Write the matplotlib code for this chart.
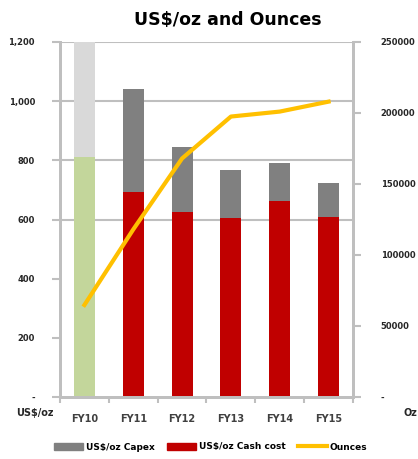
import matplotlib.pyplot as plt
import numpy as np
from matplotlib.patches import Patch
from matplotlib.lines import Line2D

# data
years = ['FY10', 'FY11', 'FY12', 'FY13', 'FY14', 'FY15']
cash_cost = [810, 692, 626, 604, 663, 607]       # US$/oz cash cost
capex = [590, 348, 218, 163, 129, 115]           # US$/oz capex (stacked on top)
ounces = [64800, 118000, 168000, 197500, 201000, 208000]

left_ticks = [0, 200, 400, 600, 800, 1000, 1200]
left_labels = ['-', '200', '400', '600', '800', '1,000', '1,200']
right_ticks = [0, 50000, 100000, 150000, 200000, 250000]
right_labels = ['-', '50000', '100000', '150000', '200000', '250000']

grid_c = '#bfbfbf'
txt_c = '#262626'

fig = plt.figure(figsize=(4.18, 4.59), dpi=100)
ax = fig.add_axes([60/418, 1-397/459, 293/418, 355/459])

x = np.arange(len(years))
w = 0.43
red = ['#c3d69b'] + ['#c00000'] * 5
gray = ['#d9d9d9'] + ['#808080'] * 5

# only the upper gridlines are visible on the original
for v in [600, 800, 1000, 1200]:
    ax.axhline(v, color=grid_c, lw=1.5, zorder=0)

ax.bar(x, cash_cost, w, color=red, zorder=2)
ax.bar(x, capex, w, bottom=cash_cost, color=gray, zorder=2)

ax.set_ylim(0, 1200)
ax.set_xlim(-0.5, 5.5)
ax.set_yticks(left_ticks)
ax.set_yticklabels(left_labels, fontsize=6, fontweight='bold', color=txt_c)
ax.set_xticks(x)
ax.set_xticklabels(years, fontsize=7, fontweight='bold', color='#404040')
ax.set_xticks(np.arange(-0.5, 6, 1), minor=True)
ax.tick_params(axis='x', which='major', length=0, pad=12)
ax.tick_params(axis='x', which='minor', length=4, color=grid_c, width=1.5)
ax.tick_params(axis='y', length=6, color=grid_c, width=1.5, pad=12)

ax2 = ax.twinx()
ax2.plot(x, ounces, color='#ffc000', lw=3, zorder=4)
ax2.set_ylim(0, 250000)
ax2.set_yticks(right_ticks)
ax2.set_yticklabels(right_labels, fontsize=6, fontweight='bold', color=txt_c)
ax2.tick_params(axis='y', length=6, color=grid_c, width=1.5, pad=14)

for a in (ax, ax2):
    a.spines['top'].set_visible(False)
    for s in ['left', 'right', 'bottom']:
        a.spines[s].set_color(grid_c)
        a.spines[s].set_linewidth(2)

fig.text(0.545, 1-20/459, 'US$/oz and Ounces', ha='center', va='center',
         fontsize=12.5, fontweight='bold', color='#000000')
fig.text(35/418, 1-413/459, 'US$/oz', ha='center', va='center',
         fontsize=7, fontweight='bold', color=txt_c)
fig.text(403/418, 1-413/459, 'Oz', ha='left', va='center',
         fontsize=7, fontweight='bold', color=txt_c)

handles = [Patch(color='#808080'), Patch(color='#c00000'),
           Line2D([0], [0], color='#ffc000', lw=3)]
fig.legend(handles, ['US$/oz Capex', 'US$/oz Cash cost', 'Ounces'],
           loc='center', bbox_to_anchor=(211/418, 1-447/459), ncol=3, frameon=False,
           prop={'size': 6.5, 'weight': 'bold'}, handlelength=3.2, handleheight=0.8,
           columnspacing=1.4, handletextpad=0.3)

fig.savefig('out.png', dpi=100)
